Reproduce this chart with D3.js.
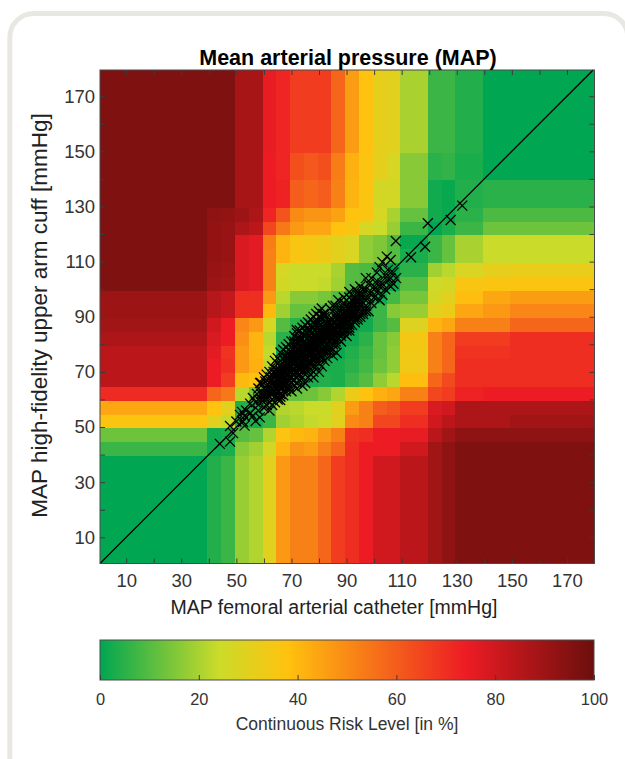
<!DOCTYPE html>
<html>
<head>
<title>Mean arterial pressure error grid</title>
<style type="text/css">
html, body { margin: 0; padding: 0; background: #fff; }
svg { display: block; }
text { font-family: "Liberation Sans", Arial, sans-serif; }
</style>
</head>
<body>
<div id="chart"></div>
<script src="https://cdnjs.cloudflare.com/ajax/libs/d3/7.8.5/d3.min.js"></script>
<script type="text/javascript">
// bin edges of the risk grid in mmHg, shared by both axes
var binEdges = [0.5, 39.5, 44.5, 49.5, 54.5, 59.5, 64.5, 69.5, 74.5, 79.5, 84.5, 89.5, 94.5, 99.5,
	104.5, 109.5, 114.5, 119.5, 124.5, 129.5, 139.5, 149.5, 180];

// risk level in %, one row per cuff bin (lowest first), one value per catheter bin
var riskRows = [
	[0, 4, 7, 18, 21, 30, 47, 52, 52, 58, 67, 70, 74, 80, 80, 84, 84, 89, 93, 96, 96, 96],
	[7, 2, 3, 16, 19, 26, 41, 48, 46, 52, 58, 70, 74, 74, 74, 80, 80, 89, 93, 96, 96, 96],
	[13, 2, 3, 10, 12, 21, 37, 40, 41, 47, 52, 69, 70, 74, 74, 75, 75, 84, 89, 93, 93, 93],
	[37, 30, 23, 5, 3, 7, 19, 21, 23, 25, 30, 50, 52, 65, 65, 70, 70, 80, 84, 87, 87, 89],
	[44, 38, 30, 4, 3, 10, 21, 22, 24, 24, 30, 46, 52, 60, 62, 67, 67, 78, 80, 87, 87, 87],
	[71, 58, 54, 22, 14, 11, 14, 12, 13, 16, 21, 33, 38, 42, 44, 52, 52, 65, 67, 73, 74, 74],
	[84, 74, 67, 40, 38, 21, 5, 5, 3, 4, 3, 7, 10, 17, 22, 39, 39, 58, 64, 70, 70, 70],
	[84, 74, 70, 47, 42, 22, 3, 4, 3, 3, 3, 5, 8, 13, 17, 34, 34, 52, 58, 70, 70, 70],
	[84, 76, 69, 47, 41, 23, 1, 1, 0, 0, 1, 4, 7, 12, 17, 34, 34, 52, 58, 69, 69, 70],
	[87, 78, 74, 49, 41, 22, 5, 2, 0, 0, 0, 2, 5, 12, 16, 35, 35, 52, 58, 67, 67, 70],
	[89, 80, 74, 51, 47, 27, 10, 5, 3, 1, 0, 1, 2, 7, 10, 29, 29, 41, 44, 52, 52, 58],
	[90, 85, 82, 70, 70, 40, 19, 12, 12, 10, 4, 4, 3, 7, 16, 18, 18, 30, 33, 44, 47, 51],
	[90, 85, 82, 70, 70, 47, 22, 16, 16, 14, 10, 5, 4, 2, 8, 14, 14, 26, 30, 39, 44, 46],
	[96, 90, 89, 78, 76, 52, 26, 24, 24, 23, 19, 10, 9, 5, 2, 10, 10, 25, 26, 36, 37, 37],
	[96, 91, 90, 78, 76, 52, 27, 24, 24, 24, 20, 10, 9, 5, 1, 5, 5, 19, 22, 28, 31, 32],
	[96, 92, 91, 78, 76, 52, 41, 36, 35, 33, 30, 28, 17, 15, 10, 3, 3, 7, 12, 20, 24, 24],
	[96, 92, 91, 78, 76, 53, 41, 36, 35, 33, 30, 28, 17, 15, 10, 1, 1, 7, 12, 20, 24, 24],
	[96, 92, 91, 87, 84, 65, 54, 47, 44, 44, 38, 36, 27, 24, 18, 7, 7, 0, 3, 7, 13, 13],
	[96, 93, 92, 90, 87, 72, 62, 50, 48, 48, 45, 38, 37, 27, 20, 12, 12, 2, 1, 5, 9, 9],
	[96, 96, 96, 88, 88, 74, 73, 60, 58, 60, 52, 41, 37, 26, 26, 16, 16, 2, 1, 4, 5, 5],
	[96, 96, 96, 88, 88, 74, 72, 63, 61, 63, 53, 42, 37, 31, 27, 16, 16, 5, 6, 3, 0, 0],
	[96, 96, 96, 88, 88, 75, 72, 67, 67, 67, 58, 46, 38, 31, 30, 20, 20, 7, 7, 4, 0, 0]
];

// [femoral catheter, upper arm cuff] in mmHg
var measurements = [
	[44, 43.9], [47.7, 44.7], [47.7, 50.4], [48.8, 47.8], [51.3, 54.4], [52.4, 51.9], [57, 52.2], [55, 55.1],
	[50, 52], [53, 50.5], [53.5, 56], [56, 54], [52, 55.5], [58, 56], [58.5, 53.5], [57, 59], [55, 58.5], [60, 57],
	[53, 54], [58, 60], [56, 60.5], [60, 62], [61, 58], [62, 56], [63, 60], [59, 62], [57.5, 62], [61, 65],
	[58.6, 66], [65.9, 59.8], [64, 61], [62, 63], [60, 64], [63, 66], [61, 67], [65, 63], [66, 62], [67, 61.5],
	[64, 65], [62.5, 68], [60.5, 66.5], [66, 65], [68, 63], [65, 68], [63.5, 70], [67, 66], [69, 64], [70, 63],
	[64, 69], [66, 68], [68, 66], [64.5, 71], [65, 70], [67, 69], [69, 67], [71, 65], [72, 64], [65, 73],
	[66, 72], [68, 70], [70, 68], [72, 66], [74, 65], [66, 74], [67, 75], [67, 73], [69, 71], [71, 69],
	[73, 67], [75, 66], [68, 76], [68, 74], [70, 72], [72, 70], [74, 68], [76, 68], [69, 78], [69, 76],
	[71, 74], [73, 72], [75, 70], [77, 69], [78, 68], [70, 79], [70, 77], [72, 75], [74, 73], [76, 71],
	[78, 70], [80, 70], [71, 81], [71, 79], [73, 77], [75, 75], [77, 73], [79, 72], [81, 72], [72, 82],
	[72, 80], [74, 78], [76, 76], [78, 74], [80, 73], [82, 74], [71.9, 85.2], [74, 84], [73, 82], [75, 80],
	[77, 78], [79, 76], [81, 75], [83, 75], [85, 76], [75, 85], [75, 83], [77, 81], [79, 79], [81, 77],
	[83, 77], [85, 78], [86.4, 76.9], [77, 87], [76, 85], [78, 83], [80, 81], [82, 79], [84, 79], [86, 80],
	[88, 81], [78, 88], [78, 86], [80, 84], [82, 82], [84, 81], [86, 82], [88, 83], [90, 83], [80, 90],
	[79, 88], [81, 86], [83, 84], [85, 83], [87, 84], [89, 85], [91, 85], [82, 91], [81, 89], [83, 87],
	[85, 85], [87, 86], [89, 87], [91, 87], [93, 88], [84, 93], [82, 90], [84, 89], [86, 88], [88, 88],
	[90, 88], [92, 89], [94, 89], [85, 94], [85, 92], [87, 90], [89, 89], [91, 90], [93, 91], [95, 91],
	[87, 96], [86, 94], [88, 93], [90, 91], [92, 92], [94, 92], [96, 92], [89, 97], [89, 95], [91, 94],
	[93, 94], [95, 94], [97, 94], [98, 92], [91, 99], [91, 97], [93, 96], [95, 96], [97, 96], [99, 95],
	[93, 100], [94, 98], [96, 98], [98, 97], [100, 97], [102, 96], [95, 101], [97, 100], [99, 99], [101, 99],
	[103, 98], [97, 104], [98, 102], [100, 101], [102, 101], [104, 100], [106, 101], [99, 104], [101, 103], [103, 102],
	[105, 103], [107, 102], [108, 104], [101, 106], [104, 105], [106, 104], [102, 108], [105, 107], [107, 106], [103, 109.8],
	[104.6, 111.8], [106, 110.6], [107.9, 117.5], [113.4, 111.6], [118.5, 115.4], [119.5, 123.9], [127.8, 125.1], [132, 130.3],
	[60, 60], [61, 61], [62, 61], [61, 63], [63, 62], [62, 64], [64, 63], [63, 64], [65, 65], [64, 66],
	[66, 66], [65, 67], [67, 67], [66, 69], [68, 68], [67, 70], [69, 69], [68, 71], [70, 70], [69, 72],
	[71, 71], [70, 73], [72, 72], [71, 75], [73, 73], [72, 76], [74, 74], [73, 75], [75, 74], [74, 76],
	[76, 75], [75, 77], [77, 76], [76, 78], [78, 77], [77, 79], [79, 78], [78, 80], [80, 79], [79, 81],
	[81, 80], [80, 82], [82, 81], [81, 83], [83, 82], [82, 84], [84, 83], [83, 85], [85, 84], [84, 86],
	[86, 85], [85, 87], [87, 86], [86, 88], [88, 87], [87, 89], [89, 88], [88, 90], [90, 89], [89, 91],
	[91, 91], [90, 92], [92, 91], [91, 93], [93, 92], [92, 94], [94, 93], [93, 95], [95, 95], [94, 96],
	[62, 59], [63, 58], [64, 59], [65, 60], [65, 61], [66, 61], [67, 63], [68, 64], [69, 65], [70, 66],
	[71, 67], [72, 68], [73, 69], [74, 70], [75, 71], [76, 72], [77, 71], [78, 72], [79, 74], [80, 75],
	[81, 76], [82, 77], [83, 78], [84, 78], [85, 80], [86, 81], [87, 82], [88, 84], [89, 84], [90, 85],
	[91, 86], [92, 87], [93, 89], [94, 90], [95, 90], [96, 91], [97, 92], [59, 60], [60, 61], [61, 62],
	[62, 65], [63, 67], [64, 68], [65, 69], [66, 70], [67, 71], [68, 72], [69, 73], [70, 74], [71, 76],
	[72, 77], [73, 78], [74, 79], [75, 79], [76, 80], [77, 82], [78, 82], [79, 83], [80, 85], [81, 85],
	[82, 86], [83, 88], [84, 88], [85, 89], [86, 90], [87, 91], [88, 92], [89, 93], [90, 94], [91, 95],
	[92, 96], [93, 97], [94, 99], [95, 98], [96, 100], [62.5, 62], [64.5, 64], [66.5, 67], [68.5, 69.5], [70.5, 71],
	[72.5, 73], [74.5, 75], [76.5, 77], [78.5, 79], [80.5, 81], [82.5, 83], [84.5, 85], [86.5, 87], [88.5, 89], [90.5, 90],
	[66.5, 64], [68.5, 66], [70.5, 69], [72.5, 71], [74.5, 72], [76.5, 74], [78.5, 75.5], [80.5, 77.5], [82.5, 80], [84.5, 82],
	[86.5, 84], [88.5, 86], [90.5, 87.5], [92.5, 90], [64.5, 67], [66.5, 69], [68.5, 71], [70.5, 73.5], [72.5, 75], [74.5, 77],
	[76.5, 79.5], [78.5, 81], [80.5, 83], [82.5, 85.5], [84.5, 87], [86.5, 89], [88.5, 91], [90.5, 93],
	[58, 64], [59, 66], [60, 68], [61, 69], [62, 70], [63, 72], [64, 74], [65, 75], [66, 77], [67, 78],
	[68, 79], [69, 80], [70, 81], [71, 83], [72, 84], [73, 85], [74, 86], [75, 87], [76, 88], [77, 89],
	[78, 90], [79, 91], [80, 92], [81, 93], [62.5, 66.5], [63.5, 68], [64.5, 69.5], [65.5, 71], [66.5, 72.5], [67.5, 74],
	[68.5, 75], [69.5, 76], [70.5, 78], [71.5, 79], [72.5, 80.5], [73.5, 81.5], [74.5, 83], [75.5, 84], [76.5, 85], [77.5, 86],
	[78.5, 87], [79.5, 88.5], [80.5, 90], [81.5, 91], [65.5, 67], [66.5, 68.5], [67.5, 70], [68.5, 73], [69.5, 74.5], [70.5, 75.5],
	[71.5, 77], [72.5, 78], [73.5, 79.5], [74.5, 81], [75.5, 82], [76.5, 83], [77.5, 84.5], [78.5, 85], [79.5, 86], [80.5, 87],
	[67.5, 65], [68.5, 67.5], [69.5, 68], [70.5, 67], [71.5, 69.5], [72.5, 69], [73.5, 71], [74.5, 73], [75.5, 72.5], [76.5, 73],
	[77.5, 75], [78.5, 76], [79.5, 77], [80.5, 76], [81.5, 78], [82.5, 78.5], [72, 74], [73, 76], [74, 77], [75, 76],
	[76, 77], [77, 77], [78, 78], [79, 80], [80, 80], [81, 82], [82, 83], [83, 83], [71, 73], [70, 75],
	[69, 74], [68, 73], [75, 78], [76, 79], [77, 80], [78, 81], [79, 82], [80, 83], [81, 84], [82, 87]
];

var xTickValues = d3.range(10, 180, 10);
var yTickValues = d3.range(10, 180, 10);
var labelledTicks = [10, 30, 50, 70, 90, 110, 130, 150, 170];
var barTicks = [0, 20, 40, 60, 80, 100];

// colormap stops
var riskStops = [0, 24, 38, 74, 100];
var riskColours = ['#00a651', '#cbdb2a', '#ffc20e', '#ed1c24', '#6b0f0c'];

var width = 625, height = 759;

var x = d3.scaleLinear().domain([0.5, 180]).range([100, 594.5]);
var y = d3.scaleLinear().domain([0.5, 179.5]).range([563.5, 70]);
var colour = d3.scaleLinear().domain(riskStops).range(riskColours);
var barX = d3.scaleLinear().domain([0, 100]).range([100, 594]);

var svg = d3.select('#chart').append('svg')
	.attr('width', width)
	.attr('height', height);

// rounded panel behind the figure, open towards the right and bottom edges
svg.append('rect')
	.attr('x', 9.8).attr('y', 13.5)
	.attr('width', 618).attr('height', 780)
	.attr('rx', 24)
	.attr('fill', '#fff')
	.attr('stroke', '#e9e7e1')
	.attr('stroke-width', 5);

var plot = svg.append('g');

// heat map cells
riskRows.forEach(function(row, r) {
	plot.selectAll('rect.row-' + r).data(row).enter()
		.append('rect')
		.attr('class', 'row-' + r)
		.attr('shape-rendering', 'crispEdges')
		.attr('x', function(d, c) { return x(binEdges[c]); })
		.attr('y', y(Math.min(binEdges[r + 1], 179.5)))
		.attr('width', function(d, c) { return x(binEdges[c + 1]) - x(binEdges[c]); })
		.attr('height', y(binEdges[r]) - y(Math.min(binEdges[r + 1], 179.5)))
		.attr('fill', function(d) { return colour(d); });
});

// line of identity
plot.append('line')
	.attr('x1', x(0.5)).attr('y1', y(0.5))
	.attr('x2', x(179.5)).attr('y2', y(179.5))
	.attr('stroke', '#000')
	.attr('stroke-width', 1.2);

// paired measurements
plot.selectAll('path.mark').data(measurements).enter()
	.append('path')
	.attr('class', 'mark')
	.attr('transform', function(d) { return 'translate(' + x(d[0]) + ',' + y(d[1]) + ')'; })
	.attr('d', 'M-5,-5L5,5M-5,5L5,-5')
	.attr('fill', 'none')
	.attr('stroke', '#000')
	.attr('stroke-width', 1.3);

function styleAxis(g) {
	g.select('.domain').remove();
	g.selectAll('.tick line').attr('stroke', '#3c3c3c').attr('stroke-width', 1);
	g.selectAll('.tick text').attr('fill', '#333').style('font-size', '18.5px');
}

function tickLabel(d) {
	return labelledTicks.indexOf(d) >= 0 ? d : '';
}

// inward ticks on all four sides
svg.append('g').attr('transform', 'translate(0,563.5)')
	.call(d3.axisBottom(x).tickValues(xTickValues).tickSize(-5).tickPadding(10.5).tickFormat(tickLabel))
	.call(styleAxis);
svg.append('g').attr('transform', 'translate(100,0)')
	.call(d3.axisLeft(y).tickValues(yTickValues).tickSize(-5).tickPadding(5).tickFormat(tickLabel))
	.call(styleAxis);
svg.append('g').attr('transform', 'translate(0,70)')
	.call(d3.axisTop(x).tickValues(xTickValues).tickSize(-5).tickFormat(''))
	.call(styleAxis);
svg.append('g').attr('transform', 'translate(594.5,0)')
	.call(d3.axisRight(y).tickValues(yTickValues).tickSize(-5).tickFormat(''))
	.call(styleAxis);

svg.append('rect')
	.attr('x', 100).attr('y', 70)
	.attr('width', 494.5).attr('height', 493.5)
	.attr('fill', 'none')
	.attr('stroke', '#4a4a4a')
	.attr('stroke-width', 1);

svg.append('text')
	.attr('x', 348).attr('y', 65)
	.attr('text-anchor', 'middle')
	.style('font-size', '21.5px')
	.style('font-weight', 'bold')
	.text('Mean arterial pressure (MAP)');

svg.append('text')
	.attr('x', 334).attr('y', 614)
	.attr('text-anchor', 'middle')
	.attr('fill', '#222')
	.style('font-size', '19.5px')
	.text('MAP femoral arterial catheter [mmHg]');

svg.append('text')
	.attr('transform', 'translate(47,315.5) rotate(-90)')
	.attr('text-anchor', 'middle')
	.attr('fill', '#222')
	.style('font-size', '22.5px')
	.text('MAP high-fidelity upper arm cuff [mmHg]');

// colour bar
var gradient = svg.append('defs').append('linearGradient')
	.attr('id', 'risk-gradient');
gradient.selectAll('stop').data(riskStops).enter()
	.append('stop')
	.attr('offset', function(d) { return d + '%'; })
	.attr('stop-color', function(d) { return colour(d); });

svg.append('rect')
	.attr('x', 100).attr('y', 640)
	.attr('width', 494).attr('height', 40)
	.attr('fill', 'url(#risk-gradient)')
	.attr('stroke', '#4a4a4a')
	.attr('stroke-width', 1);

var barAxis = svg.append('g').attr('transform', 'translate(0,680)')
	.call(d3.axisBottom(barX).tickValues(barTicks).tickSize(-5).tickPadding(13));
barAxis.select('.domain').remove();
barAxis.selectAll('.tick line').attr('stroke', '#3c3c3c');
barAxis.selectAll('.tick text').attr('fill', '#333').style('font-size', '16.4px');

svg.append('text')
	.attr('x', 347).attr('y', 730)
	.attr('text-anchor', 'middle')
	.attr('fill', '#333')
	.style('font-size', '17.5px')
	.text('Continuous Risk Level [in %]');
</script>
</body>
</html>
